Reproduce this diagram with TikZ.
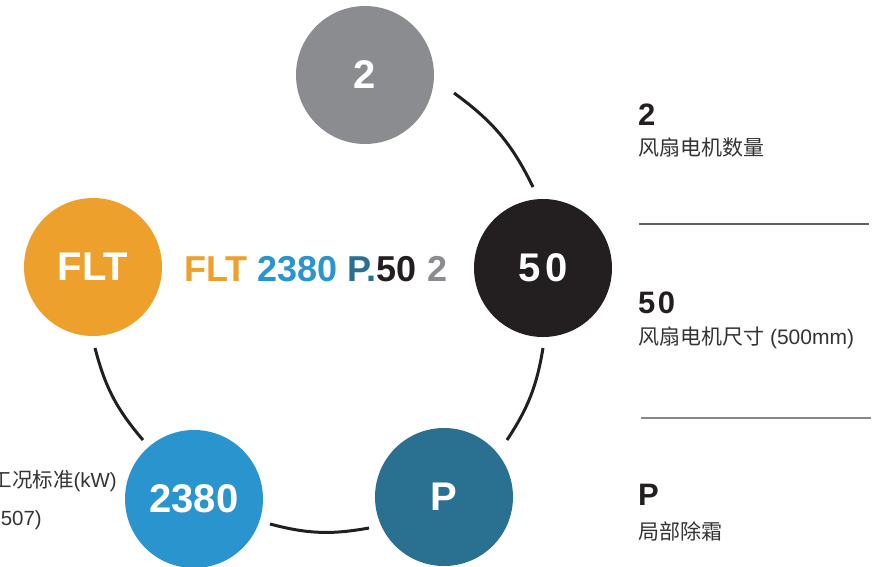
\documentclass[tikz,border=0pt]{standalone}
\usepackage{fontspec}
\setmainfont{Liberation Sans}
\newfontfamily\cjk{Noto Sans CJK SC}
\definecolor{cgray}{HTML}{8B8C90}
\definecolor{cblack}{HTML}{231F20}
\definecolor{corange}{HTML}{EDA02B}
\definecolor{cblue}{HTML}{2A94CF}
\definecolor{cteal}{HTML}{2A7091}
\definecolor{ctext}{HTML}{333333}
\tikzset{
  bubble/.style={circle, minimum size=138pt, inner sep=0pt, text=white,
    font=\fontsize{40}{40}\selectfont\bfseries},
  ring/.style={draw=cblack, line width=3pt},
  numlbl/.style={anchor=base west, inner sep=0pt, text=cblack,
    font=\fontsize{31}{31}\selectfont\bfseries},
  desc/.style={anchor=west, inner sep=0pt, text=ctext,
    font=\fontsize{21}{21}\selectfont},
  sidetxt/.style={anchor=east, inner sep=0pt, text=ctext,
    font=\fontsize{20.5}{20.5}\selectfont},
}
\begin{document}
\begin{tikzpicture}[x=1pt, y=-1pt]
\useasboundingbox (0,0) rectangle (884,566);
% circles
\node[bubble, fill=cgray]   (g) at (365,75)  {2};
\node[bubble, fill=cblack]  (k) at (543,268) {5\hspace{5pt}0};
\node[bubble, fill=corange] (o) at (93,267)  {FLT};
\node[bubble, fill=cblue]   (b) at (194,499) {2380};
\node[bubble, fill=cteal]   (p) at (444,497) {P};
% arc end points
\coordinate (a1) at (454,93);
\coordinate (a2) at (533,187);
\coordinate (b1) at (543,348);
\coordinate (b2) at (507,440);
\coordinate (c1) at (369,528);
\coordinate (c2) at (270,524);
\coordinate (d1) at (143,440);
\coordinate (d2) at (95,348);
\draw[ring] (a1) to[bend left=14] (a2);
\draw[ring] (b1) to[bend left=12] (b2);
\draw[ring] (c1) to[bend left=12.5] (c2);
\draw[ring] (d1) to[bend left=13] (d2);
% middle code
\node[anchor=base west, inner sep=0pt, font=\fontsize{36}{36}\selectfont\bfseries] (code) at (184,281)
  {\textcolor{corange}{FLT} \textcolor{cblue}{2380} \textcolor{cteal}{P.}\textcolor{cblack}{50} \textcolor{cgray}{2}};
% right descriptions
\node[numlbl] (n1) at (638,125) {2};
\node[desc] (t1) at (638,148) {\cjk 风扇电机数量};
\coordinate (l1a) at (639,224);
\coordinate (l1b) at (869,224);
\draw[draw=black!62, line width=1.3pt] (l1a) -- (l1b);
\node[numlbl] (n2) at (638,313) {5\hspace{2.5pt}0};
\node[desc] (t2) at (638,338) {{\cjk 风扇电机尺寸} (500mm)};
\coordinate (l2a) at (641,418);
\coordinate (l2b) at (871,418);
\draw[draw=black!47, line width=1.5pt] (l2a) -- (l2b);
\node[numlbl] (n3) at (638,505) {P};
\node[desc] (t3) at (638,531) {\cjk 局部除霜};
% left cut-off texts
\node[sidetxt] (s1) at (117,481) {{\cjk 工况标准}(kW)};
\node[sidetxt] (s2) at (42,520) {507)};
\end{tikzpicture}
\end{document}
